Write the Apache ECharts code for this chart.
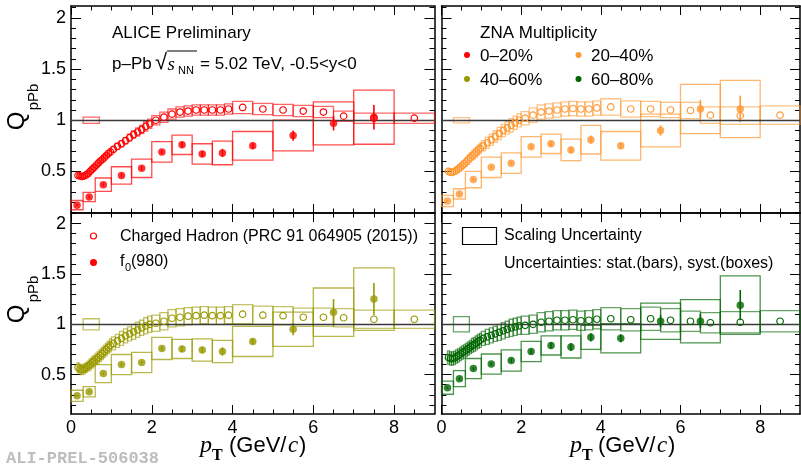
<!DOCTYPE html>
<html>
<head>
<meta charset="utf-8">
<script src="https://cdn.jsdelivr.net/npm/echarts@6/dist/echarts.min.js"></script>
<style>
html, body { margin: 0; padding: 0; background: #fff; }
#chart { width: 801px; height: 465px; }
</style>
</head>
<body>
<div id="chart"></div>
<script>
'use strict';

// charged hadron pT binning (PRC 91 064905)
const chEdges = [0.15, 0.2, 0.25, 0.3, 0.35, 0.4, 0.45, 0.5, 0.55, 0.6, 0.65, 0.7, 0.75, 0.8, 0.85, 0.9, 0.95, 1.0,
    1.1, 1.2, 1.3, 1.4, 1.5, 1.6, 1.7, 1.8, 1.9, 2.0,
    2.2, 2.4, 2.6, 2.8, 3.0, 3.2, 3.4, 3.6, 3.8, 4.0,
    4.5, 5.0, 5.5, 6.0, 6.5, 7.0, 8.0, 9.0];
const chPt = [0.175, 0.225, 0.275, 0.325, 0.375, 0.425, 0.475, 0.525, 0.575, 0.625, 0.675, 0.725, 0.775, 0.825, 0.875, 0.925, 0.975,
    1.05, 1.15, 1.25, 1.35, 1.45, 1.55, 1.65, 1.75, 1.85, 1.95,
    2.1, 2.3, 2.5, 2.7, 2.9, 3.1, 3.3, 3.5, 3.7, 3.9,
    4.25, 4.75, 5.25, 5.75, 6.25, 6.75, 7.5, 8.5];

// f0(980) pT binning
const f0Edges = [0, 0.3, 0.6, 1.0, 1.5, 2.0, 2.5, 3.0, 3.5, 4.0, 5.0, 6.0, 7.0, 8.0];
const f0Pt = [0.15, 0.45, 0.8, 1.25, 1.75, 2.25, 2.75, 3.25, 3.75, 4.5, 5.5, 6.5, 7.5];

// ZNA 0-20%
const ch020 = [0.46, 0.455, 0.45, 0.455, 0.465, 0.48, 0.5, 0.52, 0.54, 0.56, 0.58, 0.6, 0.615, 0.635, 0.655, 0.675, 0.69,
    0.715, 0.745, 0.77, 0.8, 0.83, 0.86, 0.885, 0.91, 0.94, 0.965,
    1.0, 1.03, 1.06, 1.08, 1.09, 1.1, 1.1, 1.1, 1.1, 1.11,
    1.125, 1.11, 1.1, 1.09, 1.08, 1.04, 1.02, 1.02];
const ch020Sys = [0.02, 0.02, 0.02, 0.02, 0.02, 0.02, 0.02, 0.02, 0.02, 0.02, 0.02, 0.02, 0.02, 0.02, 0.02, 0.025, 0.025,
    0.025, 0.03, 0.03, 0.03, 0.035, 0.035, 0.04, 0.04, 0.045, 0.045,
    0.045, 0.05, 0.05, 0.05, 0.05, 0.05, 0.05, 0.05, 0.05, 0.05,
    0.06, 0.055, 0.055, 0.055, 0.055, 0.05, 0.05, 0.05];
const f0020 = [0.17, 0.25, 0.37, 0.46, 0.53, 0.69, 0.76, 0.67, 0.68, 0.75, 0.85, 0.97, 1.03];
const f0020Stat = [0.01, 0.01, 0.015, 0.02, 0.02, 0.02, 0.03, 0.03, 0.04, 0.03, 0.05, 0.07, 0.12];
const f0020Sys = [0.045, 0.045, 0.065, 0.085, 0.09, 0.1, 0.095, 0.1, 0.115, 0.14, 0.15, 0.21, 0.265];

// ZNA 20-40%
const ch2040 = [0.5, 0.49, 0.49, 0.5, 0.51, 0.525, 0.54, 0.56, 0.575, 0.595, 0.615, 0.635, 0.655, 0.67, 0.69, 0.71, 0.725,
    0.75, 0.78, 0.81, 0.84, 0.87, 0.9, 0.925, 0.95, 0.975, 1.0,
    1.02, 1.05, 1.08, 1.09, 1.1, 1.11, 1.115, 1.11, 1.11, 1.12,
    1.13, 1.11, 1.11, 1.1, 1.095, 1.05, 1.045, 1.05];
const ch2040Sys = [0.03, 0.03, 0.03, 0.03, 0.035, 0.035, 0.035, 0.04, 0.04, 0.04, 0.045, 0.045, 0.045, 0.05, 0.05, 0.05, 0.05,
    0.05, 0.055, 0.055, 0.055, 0.06, 0.06, 0.06, 0.065, 0.065, 0.065,
    0.065, 0.07, 0.07, 0.07, 0.07, 0.07, 0.07, 0.07, 0.07, 0.07,
    0.08, 0.08, 0.075, 0.075, 0.08, 0.08, 0.085, 0.09];
const f02040 = [0.21, 0.28, 0.42, 0.54, 0.58, 0.74, 0.77, 0.71, 0.81, 0.75, 0.9, 1.11, 1.11];
const f02040Stat = [0.01, 0.01, 0.01, 0.015, 0.015, 0.02, 0.025, 0.03, 0.04, 0.03, 0.05, 0.09, 0.13];
const f02040Sys = [0.055, 0.05, 0.08, 0.1, 0.1, 0.1, 0.095, 0.105, 0.14, 0.14, 0.16, 0.24, 0.28];

// ZNA 40-60%
const ch4060 = [0.57, 0.555, 0.55, 0.555, 0.57, 0.585, 0.6, 0.62, 0.635, 0.655, 0.67, 0.69, 0.71, 0.73, 0.75, 0.77, 0.79,
    0.81, 0.835, 0.86, 0.885, 0.905, 0.925, 0.945, 0.965, 0.985, 1.0,
    1.01, 1.03, 1.06, 1.07, 1.08, 1.085, 1.09, 1.085, 1.085, 1.09,
    1.1, 1.09, 1.085, 1.07, 1.07, 1.065, 1.05, 1.05];
const ch4060Sys = [0.05, 0.05, 0.05, 0.05, 0.05, 0.05, 0.055, 0.055, 0.055, 0.055, 0.06, 0.06, 0.06, 0.06, 0.06, 0.06, 0.065,
    0.065, 0.065, 0.07, 0.07, 0.07, 0.075, 0.075, 0.075, 0.08, 0.08,
    0.08, 0.085, 0.085, 0.085, 0.085, 0.085, 0.085, 0.085, 0.085, 0.085,
    0.095, 0.09, 0.09, 0.09, 0.09, 0.09, 0.09, 0.09];
const f04060 = [0.29, 0.33, 0.51, 0.6, 0.62, 0.76, 0.755, 0.745, 0.73, 0.83, 0.95, 1.12, 1.25];
const f04060Stat = [0.01, 0.01, 0.01, 0.015, 0.015, 0.02, 0.03, 0.03, 0.04, 0.03, 0.06, 0.13, 0.16];
const f04060Sys = [0.055, 0.05, 0.09, 0.1, 0.1, 0.11, 0.095, 0.11, 0.11, 0.15, 0.17, 0.24, 0.31];

// ZNA 60-80%
const ch6080 = [0.67, 0.66, 0.66, 0.665, 0.68, 0.69, 0.705, 0.72, 0.73, 0.745, 0.76, 0.775, 0.79, 0.8, 0.815, 0.83, 0.84,
    0.86, 0.875, 0.89, 0.905, 0.92, 0.935, 0.95, 0.965, 0.975, 0.985,
    0.99, 1.0, 1.02, 1.03, 1.04, 1.04, 1.045, 1.035, 1.04, 1.05,
    1.055, 1.045, 1.055, 1.04, 1.03, 1.015, 1.02, 1.03];
const ch6080Sys = [0.065, 0.065, 0.065, 0.065, 0.065, 0.065, 0.065, 0.065, 0.065, 0.065, 0.065, 0.065, 0.07, 0.07, 0.07, 0.07, 0.07,
    0.07, 0.075, 0.075, 0.075, 0.08, 0.08, 0.08, 0.085, 0.085, 0.085,
    0.09, 0.09, 0.095, 0.095, 0.095, 0.095, 0.095, 0.095, 0.095, 0.095,
    0.11, 0.11, 0.115, 0.115, 0.1, 0.1, 0.105, 0.105];
const f06080 = [0.37, 0.46, 0.56, 0.605, 0.64, 0.73, 0.79, 0.775, 0.87, 0.86, 1.03, 1.03, 1.19];
const f06080Stat = [0.01, 0.015, 0.015, 0.015, 0.02, 0.025, 0.03, 0.04, 0.04, 0.04, 0.06, 0.07, 0.15];
const f06080Sys = [0.065, 0.08, 0.1, 0.1, 0.105, 0.1, 0.095, 0.11, 0.12, 0.145, 0.18, 0.215, 0.29];

const classLabels = ['0\u201320%', '20\u201340%', '40\u201360%', '60\u201380%'];
const classColors = ['#ff0000', '#ff9933', '#999900', '#006600'];
const scaleUnc = [0.03, 0.025, 0.055, 0.075];
const scaleBox = [0.3, 0.7];

// axis ticks
const xMajor = [0, 2, 4, 6, 8];
const xMinor = [0.5, 1, 1.5, 2.5, 3, 3.5, 4.5, 5, 5.5, 6.5, 7, 7.5, 8.5];
const yMajor = [0.5, 1, 1.5, 2];
const yMinor = [0.1, 0.2, 0.3, 0.4, 0.6, 0.7, 0.8, 0.9, 1.1, 1.2, 1.3, 1.4, 1.6, 1.7, 1.8, 1.9, 2.1];

const panels = [
    { ch: ch020, chSys: ch020Sys, f0: f0020, stat: f0020Stat, sys: f0020Sys },
    { ch: ch2040, chSys: ch2040Sys, f0: f02040, stat: f02040Stat, sys: f02040Sys },
    { ch: ch4060, chSys: ch4060Sys, f0: f04060, stat: f04060Stat, sys: f04060Sys },
    { ch: ch6080, chSys: ch6080Sys, f0: f06080, stat: f06080Stat, sys: f06080Sys }
];

const SANS = '"Liberation Sans", Arial, sans-serif';
const SERIF = '"Liberation Serif", "Times New Roman", serif';

const grids = [
    { left: 71, top: 6, width: 363.5, height: 207, yMin: 0.093, yMax: 2.117, xLab: false, yLab: true },
    { left: 441.5, top: 6, width: 358.5, height: 207, yMin: 0.093, yMax: 2.117, xLab: false, yLab: false },
    { left: 71, top: 213, width: 363.5, height: 201, yMin: 0.109, yMax: 2.105, xLab: true, yLab: true },
    { left: 441.5, top: 213, width: 358.5, height: 201, yMin: 0.109, yMax: 2.105, xLab: true, yLab: false }
];

const tickLine = { color: '#000', width: 1 };
const frameLine = { color: '#000', width: 1.5 };
const labelStyle = { fontFamily: SANS, fontSize: 18, color: '#000' };

const makeXAxes = (g, cfg) => {
    const base = { gridIndex: g, type: 'value', min: 0, max: 9, splitLine: { show: false } };
    const side = (position, major, labels) => Object.assign({}, base, {
        position,
        axisLine: { show: !major, onZero: false, lineStyle: frameLine },
        axisTick: { inside: true, length: major ? 9 : 4.5, customValues: major ? xMajor : xMinor, lineStyle: tickLine },
        axisLabel: labels ? Object.assign({ show: true, margin: 5, customValues: xMajor }, labelStyle) : { show: false }
    });
    return [side('bottom', false, false), side('bottom', true, cfg.xLab), side('top', false, false), side('top', true, false)];
};

const makeYAxes = (g, cfg) => {
    const base = { gridIndex: g, type: 'value', min: cfg.yMin, max: cfg.yMax, splitLine: { show: false } };
    const side = (position, major, labels) => Object.assign({}, base, {
        position,
        axisLine: { show: !major, onZero: false, lineStyle: frameLine },
        axisTick: { inside: true, length: major ? 10 : 5, customValues: major ? yMajor : yMinor, lineStyle: tickLine },
        axisLabel: labels ? Object.assign({ show: true, margin: 5, customValues: yMajor }, labelStyle) : { show: false }
    });
    return [side('left', false, false), side('left', true, cfg.yLab), side('right', false, false), side('right', true, false)];
};

// rectangles [xlo, xhi, ylo, yhi]
const boxRenderer = (color, opacity) => (params, api) => {
    const p1 = api.coord([api.value(0), api.value(3)]);
    const p2 = api.coord([api.value(1), api.value(2)]);
    return {
        type: 'rect',
        shape: { x: p1[0], y: p1[1], width: p2[0] - p1[0], height: p2[1] - p1[1] },
        style: { fill: 'none', stroke: color, lineWidth: 1.3, opacity }
    };
};

// vertical bars [x, ylo, yhi]
const barRenderer = color => (params, api) => {
    const p1 = api.coord([api.value(0), api.value(1)]);
    const p2 = api.coord([api.value(0), api.value(2)]);
    return {
        type: 'line',
        shape: { x1: p1[0], y1: p1[1], x2: p2[0], y2: p2[1] },
        style: { stroke: color, lineWidth: 1.6 }
    };
};

const makeSeries = (g) => {
    const p = panels[g];
    const color = classColors[g];
    const axis = { xAxisIndex: 4 * g, yAxisIndex: 4 * g };
    const chBoxes = p.ch.map((v, i) => [chEdges[i], chEdges[i + 1], v - p.chSys[i], v + p.chSys[i]]);
    const f0Boxes = p.f0.map((v, i) => [f0Edges[i], f0Edges[i + 1], v - p.sys[i], v + p.sys[i]]);
    const f0Bars = p.f0.map((v, i) => [f0Pt[i], v - p.stat[i], v + p.stat[i]]);
    const scale = [[scaleBox[0], scaleBox[1], 1 - scaleUnc[g], 1 + scaleUnc[g]]];

    return [
        Object.assign({
            type: 'custom', renderItem: boxRenderer(color, 0.6), data: chBoxes, z: 2,
            encode: { x: [0, 1], y: [2, 3] },
            markLine: {
                silent: true, symbol: ['none', 'none'], label: { show: false },
                lineStyle: { color: '#3a3a3a', width: 1.3, type: 'solid' },
                data: [{ yAxis: 1 }]
            }
        }, axis),
        Object.assign({ type: 'custom', renderItem: boxRenderer(color, 0.7), data: f0Boxes, z: 3, encode: { x: [0, 1], y: [2, 3] } }, axis),
        Object.assign({ type: 'custom', renderItem: boxRenderer(color, 0.6), data: scale, z: 3, encode: { x: [0, 1], y: [2, 3] } }, axis),
        Object.assign({ type: 'custom', renderItem: barRenderer(color), data: f0Bars, z: 4, encode: { x: 0, y: [1, 2] } }, axis),
        Object.assign({
            type: 'scatter', symbol: 'circle', symbolSize: 6.5, z: 5,
            itemStyle: { color: 'rgba(255,255,255,0)', borderColor: color, borderWidth: 1.2, opacity: 1 },
            data: chPt.map((x, i) => [x, p.ch[i]])
        }, axis),
        Object.assign({
            type: 'scatter', symbol: 'circle', symbolSize: 7.5, z: 6,
            itemStyle: { color },
            data: f0Pt.map((x, i) => [x, p.f0[i]])
        }, axis)
    ];
};

const txt = (x, y, text, font, extra) => ({
    type: 'text', x, y, silent: true,
    style: Object.assign({ text, font, fill: '#000', align: 'left', verticalAlign: 'middle' }, extra || {})
});

// rotated text for the vertical axis titles
const vtxt = (x, y, text, font) => Object.assign(txt(x, y, text, font, { align: 'center' }), { rotation: Math.PI / 2 });

const graphics = [
    // top-left header
    txt(112, 33, 'ALICE Preliminary', '17px ' + SANS),
    txt(112, 64, 'p\u2013Pb', '17px ' + SANS),
    txt(155, 63, '\u221A', '22px ' + SANS),
    { type: 'line', silent: true, shape: { x1: 167, y1: 51, x2: 197, y2: 51 }, style: { stroke: '#000', lineWidth: 1 } },
    txt(167.5, 65, 's', 'italic 19px ' + SERIF),
    txt(178, 71, 'NN', '11px ' + SANS),
    txt(200, 64, '= 5.02 TeV, -0.5<y<0', '17px ' + SANS),

    // top-right header and class legend
    txt(480, 33, 'ZNA Multiplicity', '17px ' + SANS),
    txt(480, 56, classLabels[0], '17px ' + SANS),
    txt(591, 56, classLabels[1], '17px ' + SANS),
    txt(480, 80, classLabels[2], '17px ' + SANS),
    txt(591, 80, classLabels[3], '17px ' + SANS),
    { type: 'circle', silent: true, shape: { cx: 467, cy: 55, r: 3 }, style: { fill: classColors[0] } },
    { type: 'circle', silent: true, shape: { cx: 578.5, cy: 55, r: 3 }, style: { fill: classColors[1] } },
    { type: 'circle', silent: true, shape: { cx: 467, cy: 79, r: 3 }, style: { fill: classColors[2] } },
    { type: 'circle', silent: true, shape: { cx: 578.5, cy: 79, r: 3 }, style: { fill: classColors[3] } },

    // bottom-left legend
    { type: 'circle', silent: true, shape: { cx: 93.5, cy: 236, r: 3 }, style: { fill: '#fff', stroke: classColors[0], lineWidth: 1.2 } },
    txt(120, 237, 'Charged Hadron (PRC 91 064905 (2015))', '16px ' + SANS),
    { type: 'circle', silent: true, shape: { cx: 93.5, cy: 262.5, r: 3.5 }, style: { fill: classColors[0] } },
    txt(120, 262, 'f', '16px ' + SANS),
    txt(125, 268, '0', '11px ' + SANS),
    txt(131, 262, '(980)', '16px ' + SANS),

    // bottom-right legend
    { type: 'rect', silent: true, shape: { x: 462.5, y: 227.5, width: 34, height: 17 }, style: { fill: 'none', stroke: '#000', lineWidth: 1.2 } },
    txt(504, 236, 'Scaling Uncertainty', '16px ' + SANS),
    txt(504, 264, 'Uncertainties: stat.(bars), syst.(boxes)', '16px ' + SANS),

    // y axis titles
    vtxt(17, 121, 'Q', '24px ' + SANS),
    vtxt(34, 97, 'pPb', '15px ' + SANS),
    vtxt(17, 314, 'Q', '24px ' + SANS),
    vtxt(34, 289, 'pPb', '15px ' + SANS),

    // x axis titles
    txt(200, 446, 'p', 'italic 24px ' + SERIF),
    txt(212, 456, 'T', 'bold 16px ' + SERIF),
    txt(229, 446, '(GeV/', '22px ' + SANS),
    txt(288, 446, 'c', 'italic 23px ' + SERIF),
    txt(299, 446, ')', '22px ' + SANS),
    txt(570, 446, 'p', 'italic 24px ' + SERIF),
    txt(582, 456, 'T', 'bold 16px ' + SERIF),
    txt(598, 446, '(GeV/', '22px ' + SANS),
    txt(657, 446, 'c', 'italic 23px ' + SERIF),
    txt(668, 446, ')', '22px ' + SANS),

    // figure id
    txt(6, 459, 'ALI-PREL-506038', 'bold 17px "Liberation Mono", "Courier New", monospace', { fill: '#bdbdbd' })
];

const chart = echarts.init(document.getElementById('chart'), null, { renderer: 'canvas' });

let xAxes = [];
let yAxes = [];
let series = [];
grids.forEach((cfg, g) => {
    xAxes = xAxes.concat(makeXAxes(g, cfg));
    yAxes = yAxes.concat(makeYAxes(g, cfg));
    series = series.concat(makeSeries(g));
});

chart.setOption({
    animation: false,
    backgroundColor: '#fff',
    grid: grids.map(cfg => ({
        left: cfg.left, top: cfg.top, width: cfg.width, height: cfg.height,
        containLabel: false, outerBoundsMode: 'none'
    })),
    xAxis: xAxes,
    yAxis: yAxes,
    series,
    graphic: graphics
});
</script>
</body>
</html>
